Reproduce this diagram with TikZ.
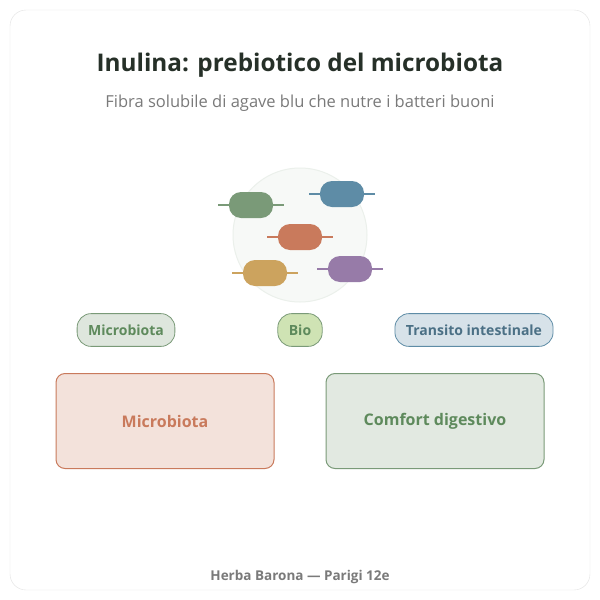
\documentclass[tikz,border=0pt]{standalone}
\usepackage{fontspec}
\setmainfont{Open Sans}
\definecolor{ink}{HTML}{263028}
\definecolor{muted}{HTML}{7A7A7A}
\definecolor{bgreen}{HTML}{7A9A78}
\definecolor{bblue}{HTML}{5E8CA6}
\definecolor{borange}{HTML}{C97A5C}
\definecolor{byellow}{HTML}{CCA35E}
\definecolor{bpurple}{HTML}{977BA8}
\definecolor{lgreen}{HTML}{5E8A5C}
\definecolor{biofill}{HTML}{CFE3B4}
\tikzset{
  bact/.style={rounded corners=12pt,minimum width=44pt,minimum height=26pt,inner sep=0pt},
  pill/.style={rounded corners=14pt,minimum height=30pt,inner sep=11pt,line width=0.8pt,font=\bfseries\fontsize{14}{16}\selectfont},
  card/.style={rounded corners=9pt,minimum width=218pt,minimum height=95pt,line width=1pt,font=\bfseries\fontsize{16}{19}\selectfont}
}
\begin{document}
\begin{tikzpicture}[x=1pt,y=-1pt]
  \useasboundingbox (0,0) rectangle (600,600);
  \draw[black!12,fill=white,rounded corners=16pt] (10,10) rectangle (590,590);

  % title
  \node[text=ink,font=\bfseries\fontsize{24.3}{29}\selectfont] (title) at (300,65) {Inulina: prebiotico del microbiota};
  \node[text=muted,font=\fontsize{16.5}{19}\selectfont] (subtitle) at (300,103) {Fibra solubile di agave blu che nutre i batteri buoni};

  % microbiota circle
  \node[circle,draw=bgreen!15,fill=bgreen!6,minimum size=134pt,line width=1pt] (dish) at (300,235) {};
  \foreach \name/\x/\y/\col in {g/251/205/bgreen, b/342/194/bblue, o/300/237/borange, y/265/273/byellow, p/350/269/bpurple}
  {
    \draw[\col,line width=2.5pt] (\x-33,\y) -- (\x+33,\y);
    \node[bact,fill=\col] (bact-\name) at (\x,\y) {};
  }

  % tags
  \node[pill,draw=bgreen,fill=bgreen!25,text=lgreen] (tag-micro) at (126,330) {Microbiota};
  \node[pill,draw=bgreen,fill=biofill,text=lgreen] (tag-bio) at (300,330) {Bio};
  \node[pill,draw=bblue,fill=bblue!25,text=bblue!80!black] (tag-transit) at (474,330) {Transito intestinale};

  % cards
  \node[card,draw=borange,fill=borange!22,text=borange] (card-micro) at (165,421) {Microbiota};
  \node[card,draw=bgreen,fill=bgreen!22,text=lgreen] (card-comfort) at (435,421) {Comfort digestivo};

  % footer
  \node[text=muted,font=\bfseries\fontsize{13.5}{15}\selectfont] (footer) at (300,577) {Herba Barona — Parigi 12e};
\end{tikzpicture}
\end{document}
